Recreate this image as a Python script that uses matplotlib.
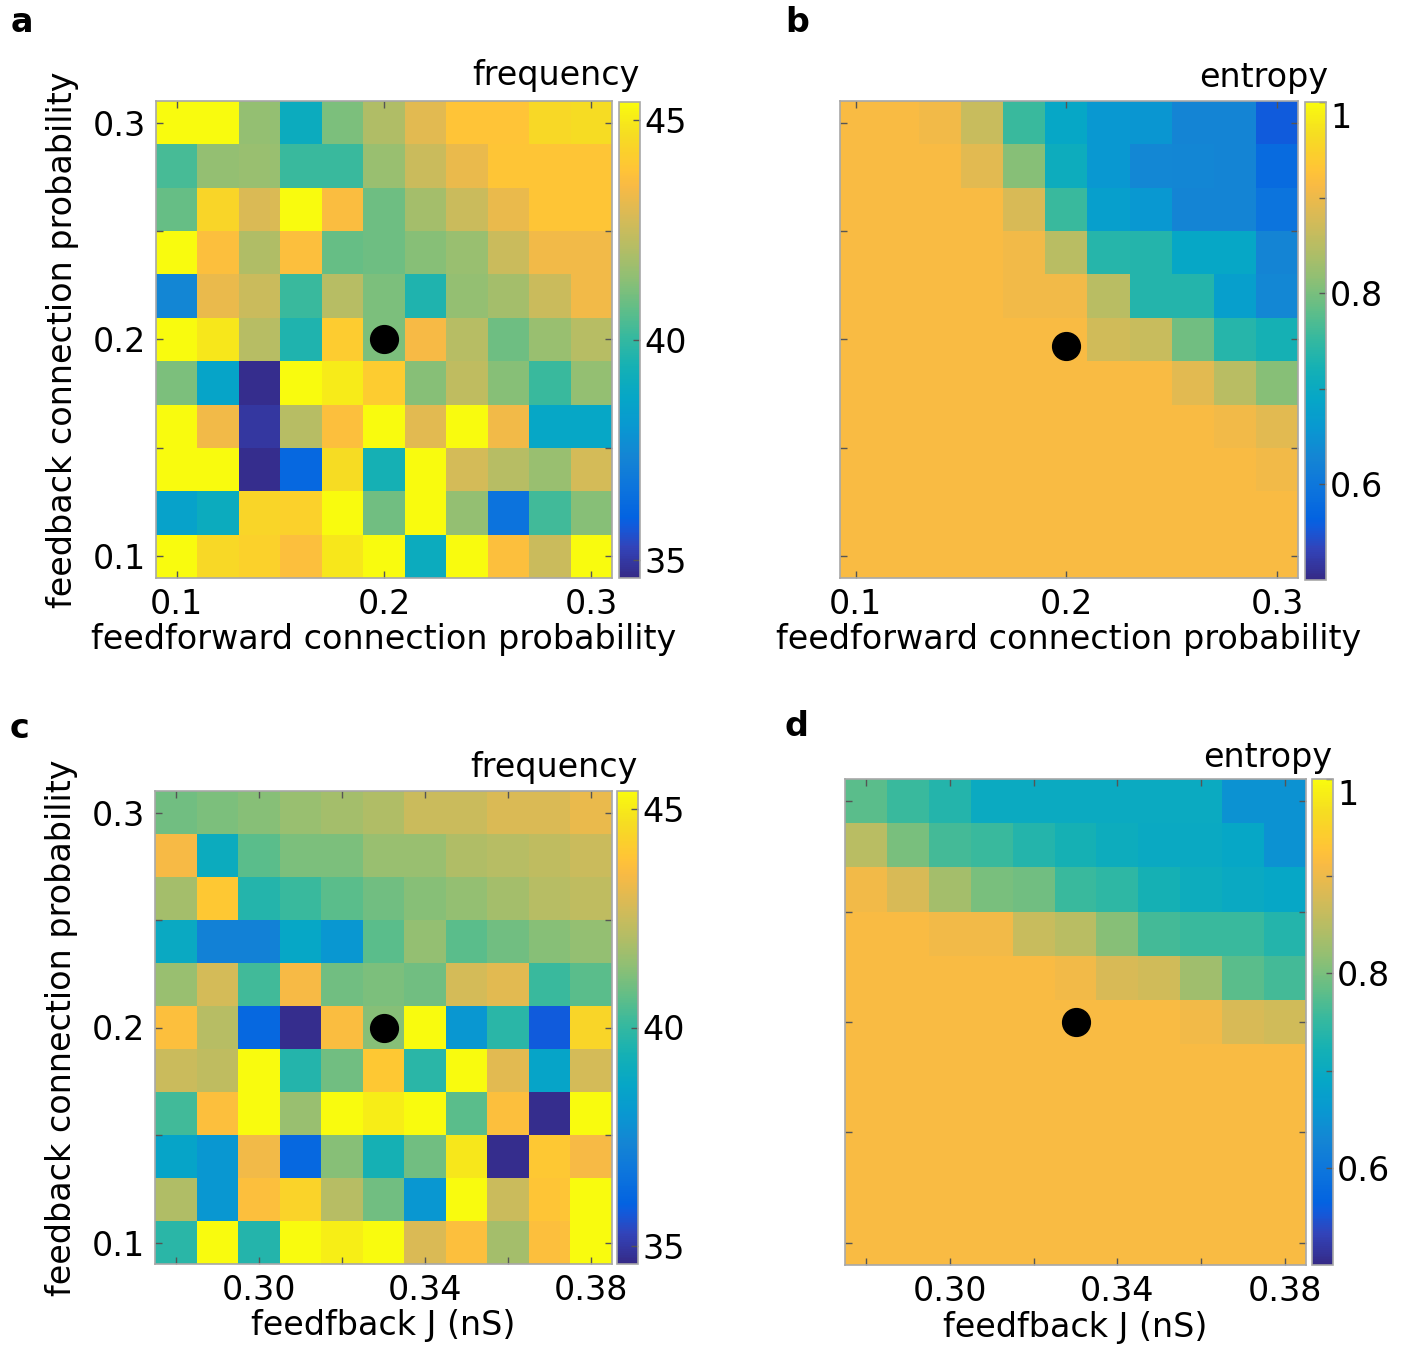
import numpy as np
import matplotlib
matplotlib.use("Agg")
import matplotlib.pyplot as plt
from matplotlib.colors import LinearSegmentedColormap

plt.rcParams['font.family'] = 'DejaVu Sans'
plt.rcParams['font.size'] = 24

# MATLAB parula, a subset of its 64 entries (index, rgb)
parula_pts = [
    (0, (0.2081, 0.1663, 0.5292)), (4, (0.1959, 0.2645, 0.7279)),
    (7, (0.0591, 0.3598, 0.8683)), (8, (0.0117, 0.3875, 0.8820)),
    (12, (0.0498, 0.4586, 0.8641)), (16, (0.0793, 0.5200, 0.8312)),
    (20, (0.0343, 0.5966, 0.8199)), (24, (0.0228, 0.6535, 0.7768)),
    (28, (0.0843, 0.6928, 0.7062)), (32, (0.2178, 0.7250, 0.6193)),
    (36, (0.3953, 0.7459, 0.5244)), (40, (0.5709, 0.7485, 0.4494)),
    (44, (0.7184, 0.7411, 0.3905)), (48, (0.8507, 0.7299, 0.3360)),
    (52, (0.9739, 0.7314, 0.2666)), (54, (0.9990, 0.7653, 0.2164)),
    (56, (0.9880, 0.8066, 0.1794)), (59, (0.9626, 0.8705, 0.1309)),
    (63, (0.9763, 0.9831, 0.0538)),
]
parula = LinearSegmentedColormap.from_list('parula', [(i / 63, c) for i, c in parula_pts])

# axes values
ff_prob = [0.10, 0.12, 0.14, 0.16, 0.18, 0.20, 0.22, 0.24, 0.26, 0.28, 0.30]
fb_prob = [0.10, 0.12, 0.14, 0.16, 0.18, 0.20, 0.22, 0.24, 0.26, 0.28, 0.30]
fb_J = [0.28, 0.29, 0.30, 0.31, 0.32, 0.33, 0.34, 0.35, 0.36, 0.37, 0.38]

# grids, rows from top (fb prob 0.30) to bottom (0.10)
freq_ff = [
    [45.4, 45.4, 41.5, 39.0, 41.1, 42.0, 43.0, 43.85, 43.85, 44.5, 44.6],
    [40.3, 41.5, 41.6, 40.1, 40.1, 41.6, 42.5, 43.2, 43.9, 43.9, 43.9],
    [40.8, 44.4, 42.85, 45.4, 43.6, 40.9, 41.8, 42.5, 43.2, 43.9, 43.9],
    [45.4, 43.7, 42.0, 43.7, 40.8, 40.9, 41.3, 41.6, 42.5, 43.35, 43.35],
    [37.4, 43.2, 42.5, 40.1, 42.15, 41.1, 39.6, 41.5, 41.8, 42.5, 43.35],
    [45.4, 44.9, 42.15, 39.6, 44.1, 41.1, 43.5, 42.15, 40.9, 41.6, 42.15],
    [41.1, 38.6, 34.7, 45.4, 45.0, 44.1, 41.3, 42.3, 41.3, 40.1, 41.5],
    [45.4, 43.35, 34.95, 42.15, 43.7, 45.4, 43.0, 45.4, 43.35, 38.7, 38.7],
    [45.4, 45.4, 34.7, 36.2, 44.6, 39.4, 45.4, 42.7, 42.15, 41.6, 42.7],
    [38.5, 39.0, 44.4, 44.3, 45.4, 40.95, 45.4, 41.5, 36.6, 40.25, 41.3],
    [45.4, 44.5, 44.3, 43.7, 44.9, 45.4, 39.0, 45.4, 43.7, 42.5, 45.4],
]

E = 0.913
entropy_ff = [
    [E, E, 0.905, 0.865, 0.754, 0.69, 0.66, 0.655, 0.625, 0.625, 0.556],
    [E, E, E, 0.889, 0.81, 0.706, 0.66, 0.632, 0.63, 0.625, 0.58],
    [E, E, E, E, 0.88, 0.754, 0.675, 0.66, 0.625, 0.625, 0.595],
    [E, E, E, E, 0.905, 0.85, 0.738, 0.735, 0.69, 0.69, 0.625],
    [E, E, E, E, 0.905, 0.905, 0.85, 0.735, 0.735, 0.675, 0.632],
    [E, E, E, E, E, E, 0.873, 0.865, 0.794, 0.738, 0.722],
    [E, E, E, E, E, E, E, E, 0.889, 0.85, 0.81],
    [E, E, E, E, E, E, E, E, E, 0.905, 0.889],
    [E, E, E, E, E, E, E, E, E, E, 0.905],
    [E, E, E, E, E, E, E, E, E, E, E],
    [E, E, E, E, E, E, E, E, E, E, E],
]

freq_J = [
    [40.95, 41.1, 41.3, 41.6, 41.8, 42.0, 42.5, 42.5, 42.85, 42.85, 43.2],
    [43.5, 39.0, 40.6, 41.1, 41.1, 41.6, 41.6, 42.0, 42.15, 42.3, 42.5],
    [41.8, 44.0, 39.7, 40.1, 40.6, 40.95, 41.3, 41.5, 41.8, 42.15, 42.3],
    [38.9, 37.2, 37.2, 38.7, 38.0, 40.6, 41.5, 40.6, 40.95, 41.3, 41.5],
    [41.6, 42.7, 40.25, 43.5, 40.95, 41.1, 40.95, 42.7, 43.0, 40.1, 40.6],
    [43.7, 42.15, 36.2, 34.7, 43.6, 41.3, 45.4, 38.0, 39.8, 35.8, 44.4],
    [42.5, 42.3, 45.4, 39.7, 40.95, 44.0, 39.8, 45.4, 43.0, 38.6, 42.7],
    [40.25, 43.7, 45.4, 41.6, 45.4, 45.05, 45.4, 40.6, 43.7, 34.7, 45.4],
    [38.6, 38.0, 43.35, 36.2, 41.3, 39.4, 40.95, 44.9, 34.7, 44.0, 43.5],
    [42.0, 38.0, 43.7, 44.35, 42.15, 40.95, 38.0, 45.4, 42.5, 43.9, 45.4],
    [39.8, 45.4, 39.7, 45.4, 45.1, 45.4, 42.85, 43.7, 41.8, 43.7, 45.4],
]

entropy_J = [
    [0.778, 0.754, 0.735, 0.70, 0.70, 0.70, 0.70, 0.70, 0.70, 0.65, 0.65],
    [0.85, 0.80, 0.762, 0.754, 0.735, 0.722, 0.706, 0.698, 0.698, 0.69, 0.65],
    [0.905, 0.88, 0.833, 0.80, 0.794, 0.754, 0.745, 0.722, 0.706, 0.698, 0.69],
    [E, E, 0.905, 0.905, 0.865, 0.85, 0.81, 0.762, 0.754, 0.754, 0.735],
    [E, E, E, E, E, 0.905, 0.88, 0.873, 0.829, 0.778, 0.762],
    [E, E, E, E, E, E, E, E, 0.905, 0.88, 0.873],
    [E, E, E, E, E, E, E, E, E, E, E],
    [E, E, E, E, E, E, E, E, E, E, E],
    [E, E, E, E, E, E, E, E, E, E, E],
    [E, E, E, E, E, E, E, E, E, E, E],
    [E, E, E, E, E, E, E, E, E, E, E],
]

# default parameter points
dot_a = (0.20, 0.20)
dot_b = (0.20, 0.197)
dot_c = (0.33, 0.20)
dot_d = (0.33, 0.20)

W, H = 1405, 1346
fig = plt.figure(figsize=(W / 100, H / 100), dpi=100)


def rect(l, t, r, b):
    return [l / W, 1 - b / H, (r - l) / W, (b - t) / H]


def panel(box, cbox, x, y, z, clim, xlim, xticks, xlabels, xlabel, ylabel, dot,
          cticks, clabels, ctitle, ctitle_xy, letter, letter_xy):
    ax = fig.add_axes(rect(*box))
    cax = fig.add_axes(rect(*cbox))
    zz = np.flipud(np.array(z))
    m = ax.pcolormesh(x, y, zz, cmap=parula, vmin=clim[0], vmax=clim[1],
                      shading='nearest', rasterized=True)
    ax.plot(dot[0], dot[1], 'o', color='black', markersize=20)
    ax.set_xlim(xlim)
    ax.set_ylim(0.09, 0.31)
    ax.set_xticks(xticks)
    ax.set_xticklabels(xlabels)
    ax.set_yticks([0.10, 0.15, 0.20, 0.25, 0.30])
    if ylabel:
        ax.set_yticklabels(['0.1', '', '0.2', '', '0.3'])
        ax.set_ylabel(ylabel, labelpad=10)
    else:
        ax.set_yticklabels([])
    ax.set_xlabel(xlabel, labelpad=2)
    ax.tick_params(direction='in', length=5, width=1, color='#555555',
                   top=True, right=True, pad=7)
    for s in ax.spines.values():
        s.set_color('#a8a8a8')
        s.set_linewidth(1.2)

    cb = fig.colorbar(m, cax=cax)
    cb.set_ticks(cticks)
    cb.set_ticklabels(clabels)
    cb.outline.set_edgecolor('#a8a8a8')
    cb.outline.set_linewidth(1.2)
    cax.tick_params(direction='in', length=5, width=1, color='#555555', pad=3)
    if clabels[-1] == '1':
        cax.get_yticklabels()[-1].set_va('top')

    fig.text(ctitle_xy[0] / W, 1 - ctitle_xy[1] / H, ctitle, ha='right', va='center')
    fig.text(letter_xy[0] / W, 1 - letter_xy[1] / H, letter, fontweight='bold',
             ha='left', va='center')
    return ax


panel((156, 101, 612, 578), (619, 102, 640, 578), ff_prob, fb_prob, freq_ff,
      (34.6, 45.4), (0.09, 0.31), [0.1, 0.2, 0.3], ['0.1', '0.2', '0.3'],
      'feedforward connection probability', 'feedback connection probability', dot_a,
      [35, 40, 45], ['35', '40', '45'], 'frequency', (640, 76), 'a', (11, 22))

panel((840, 101, 1298, 578), (1305, 102, 1326, 580), ff_prob, fb_prob, entropy_ff,
      (0.5, 1.0), (0.0925, 0.31), [0.1, 0.2, 0.3], ['0.1', '0.2', '0.3'],
      'feedforward connection probability', None, dot_b,
      [0.6, 0.7, 0.8, 0.9, 1.0], ['0.6', '', '0.8', '', '1'], 'entropy', (1328, 78),
      'b', (785, 22))

panel((155, 791, 612, 1264), (617, 791, 638, 1264), fb_J, fb_prob, freq_J,
      (34.6, 45.4), (0.275, 0.385), [0.28, 0.30, 0.32, 0.34, 0.36, 0.38],
      ['', '0.30', '', '0.34', '', '0.38'],
      'feedfback J (nS)', 'feedback connection probability', dot_c,
      [35, 40, 45], ['35', '40', '45'], 'frequency', (638, 768), 'c', (10, 728))

panel((845, 779, 1306, 1265), (1312, 779, 1333, 1265), fb_J, fb_prob, entropy_J,
      (0.5, 1.0), (0.275, 0.385), [0.28, 0.30, 0.32, 0.34, 0.36, 0.38],
      ['', '0.30', '', '0.34', '', '0.38'],
      'feedfback J (nS)', None, dot_d,
      [0.6, 0.7, 0.8, 0.9, 1.0], ['0.6', '', '0.8', '', '1'], 'entropy', (1332, 757),
      'd', (785, 727))

fig.savefig('out.png', dpi=100)
